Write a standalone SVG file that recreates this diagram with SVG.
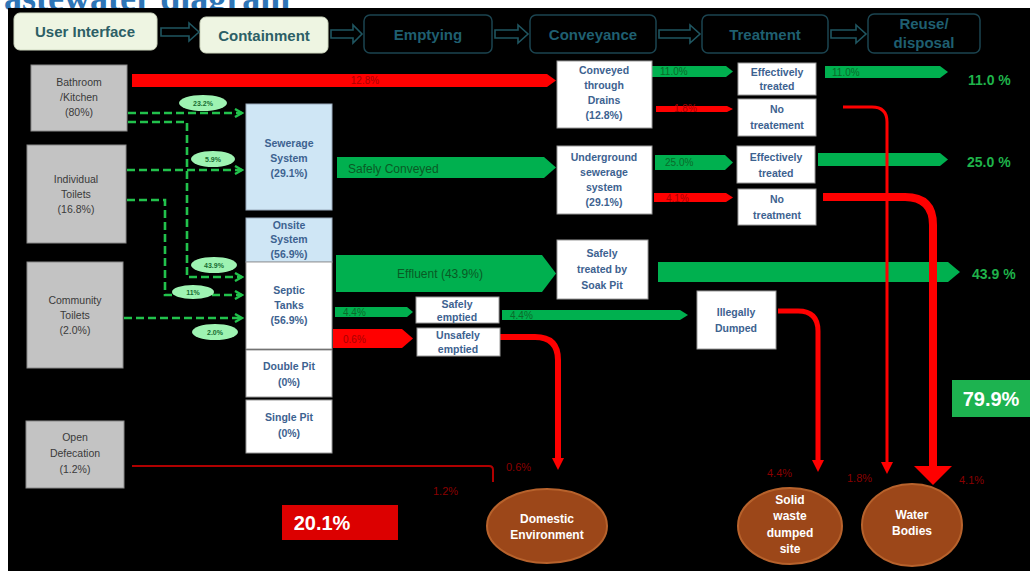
<svg xmlns="http://www.w3.org/2000/svg" width="1030" height="571" viewBox="0 0 1030 571">
<defs>
<style>
text{font-family:"Liberation Sans",Arial,sans-serif}
.title{font-family:"Liberation Serif",serif;font-weight:bold;font-size:36px;fill:#2e75b6}
.hdrA rect{fill:#eef5e2;stroke:#cfd8c0;stroke-width:1}
.hdrB rect{fill:#000;stroke:#1b4450;stroke-width:1.5}
.hdrA text{fill:#2c5f66;font-weight:bold;font-size:15px;text-anchor:middle}
.hdrB text{fill:#1f5f70;font-weight:bold;font-size:15px;text-anchor:middle}
.harrow{fill:none;stroke:#1f5560;stroke-width:1.6}
.gray rect{fill:#c3c3c3;stroke:#8a8a8a;stroke-width:1}
.gray text{fill:#3a3a3a;font-size:10.5px;text-anchor:middle}
.blue rect{fill:#cfe6f5;stroke:#9ab;stroke-width:1}
.wbox rect{fill:#fff;stroke:#999;stroke-width:1}
.blue text,.wbox text{fill:#3d6290;font-size:10.5px;font-weight:bold;text-anchor:middle}
.gbar{fill:#00b04f}
.rbar{fill:#ff0000}
.glab{fill:#0b6a2a;font-size:10px}
.rlab{fill:#a80000;font-size:10px}
.dash{fill:none;stroke:#22c24c;stroke-width:2.6;stroke-dasharray:8 4}
.oval ellipse{fill:#9ef3b2}
.oval text{fill:#176b30;font-size:7px;text-anchor:middle;font-weight:bold}
.rline{fill:none;stroke:#ff0000}
.sink ellipse{fill:#9c4719;stroke:#b7622c;stroke-width:2}
.sink text{fill:#fff;font-weight:bold;font-size:12px;text-anchor:middle}
.big{fill:#fff;font-weight:bold;font-size:20px;text-anchor:middle}
.gpct{fill:#1fb34a;font-weight:bold;font-size:14px}
.dlab{fill:#8a0000;font-size:11px}
</style>
<marker id="gchev" markerWidth="10" markerHeight="10" refX="8" refY="5" orient="auto" markerUnits="userSpaceOnUse">
<path d="M1,1 L8,5 L1,9" fill="none" stroke="#22c24c" stroke-width="2.4"/>
</marker>
<marker id="rtip" markerWidth="14" markerHeight="12" refX="2" refY="6" orient="auto" markerUnits="userSpaceOnUse">
<path d="M0,0 L12,6 L0,12 Z" fill="#ff0000"/>
</marker>
</defs>

<rect x="0" y="0" width="1030" height="571" fill="#fff"/>
<text class="title" x="-30" y="10">Wastewater diagram</text>
<rect x="8" y="8" width="1022" height="563" fill="#000"/>

<g id="header">
<g id="h-user" class="hdrA"><rect x="14" y="13" width="143" height="37" rx="6"/><text x="85" y="37">User Interface</text></g>
<g id="h-contain" class="hdrA"><rect x="200" y="17" width="128" height="36" rx="6"/><text x="264" y="41">Containment</text></g>
<g id="h-empty" class="hdrB"><rect x="364" y="15" width="128" height="38" rx="6"/><text x="428" y="40">Emptying</text></g>
<g id="h-convey" class="hdrB"><rect x="530" y="15" width="126" height="38" rx="6"/><text x="593" y="40">Conveyance</text></g>
<g id="h-treat" class="hdrB"><rect x="702" y="15" width="126" height="38" rx="6"/><text x="765" y="40">Treatment</text></g>
<g id="h-reuse" class="hdrB"><rect x="868" y="14" width="112" height="39" rx="6"/><text x="924" y="29">Reuse/</text><text x="924" y="48">disposal</text></g>
<path class="harrow" d="M161,28 H189 V23 L199,32 L189,41 V36 H161 Z"/>
<path class="harrow" d="M331,30 H353 V25 L362,34 L353,43 V38 H331 Z"/>
<path class="harrow" d="M495,30 H518 V25 L528,34 L518,43 V38 H495 Z"/>
<path class="harrow" d="M659,30 H690 V25 L700,34 L690,43 V38 H659 Z"/>
<path class="harrow" d="M831,30 H856 V25 L866,34 L856,43 V38 H831 Z"/>
</g>

<g id="connectors">
<!-- green dashed inflows -->
<path class="dash" d="M128,113 H242" marker-end="url(#gchev)"/>
<path class="dash" d="M128,122 H187 V277 H242" marker-end="url(#gchev)"/>
<path class="dash" d="M127,170 H242" marker-end="url(#gchev)"/>
<path class="dash" d="M127,200 H165 V295 H242" marker-end="url(#gchev)"/>
<path class="dash" d="M124,318 H242" marker-end="url(#gchev)"/>
<g class="oval"><ellipse cx="203" cy="103" rx="24" ry="8"/><text x="203" y="106">23.2%</text></g>
<g class="oval"><ellipse cx="213" cy="159" rx="22" ry="8"/><text x="213" y="162">5.9%</text></g>
<g class="oval"><ellipse cx="214" cy="265" rx="23" ry="8"/><text x="214" y="268">43.9%</text></g>
<g class="oval"><ellipse cx="193" cy="292" rx="21" ry="7"/><text x="193" y="295">11%</text></g>
<g class="oval"><ellipse cx="215" cy="332" rx="23" ry="8"/><text x="215" y="335">2.0%</text></g>

<!-- red top bar -->
<polygon class="rbar" points="132,74 547,74 556,80.5 547,87 132,87"/>
<text class="rlab" x="365" y="84" text-anchor="middle">12.8%</text>

<!-- drains outputs -->
<polygon class="gbar" points="652,66 726,66 733,71.5 726,77 652,77"/>
<text class="glab" x="660" y="75">11.0%</text>
<polygon class="rbar" points="656,106 727,106 733,109 727,112 656,112"/>
<text class="rlab" x="674" y="112">1.8%</text>
<polygon class="gbar" points="825,66 940,66 948,72 940,78 825,78"/>
<text class="glab" x="832" y="76">11.0%</text>

<!-- sewerage -->
<polygon class="gbar" points="337,157 544,157 556,167.5 544,178 337,178"/>
<text x="348" y="173" fill="#0a5a25" font-size="12">Safely Conveyed</text>
<polygon class="gbar" points="655,155 725,155 733,162.5 725,170 655,170"/>
<text class="glab" x="665" y="166">25.0%</text>
<polygon class="rbar" points="654,193 726,193 733,197.5 726,202 654,202"/>
<text class="rlab" x="666" y="202">4.1%</text>
<polygon class="gbar" points="818,153 940,153 948,159.5 940,166 818,166"/>

<!-- effluent -->
<polygon class="gbar" points="336,255 542,255 556,273.5 542,292 336,292"/>
<text x="440" y="278" fill="#0a5a25" font-size="12" text-anchor="middle">Effluent (43.9%)</text>
<polygon class="gbar" points="658,262 948,262 960,272 948,282 658,282"/>

<!-- emptying -->
<polygon class="gbar" points="335,307 407,307 413,312 407,317 335,317"/>
<text class="glab" x="343" y="316">4.4%</text>
<polygon class="gbar" points="502,310 680,310 688,315 680,320 502,320"/>
<text class="glab" x="510" y="319">4.4%</text>
<polygon class="rbar" points="333,329 402,329 413,338.5 402,348 333,348"/>
<text class="rlab" x="343" y="343" font-size="11">0.6%</text>

<!-- red discharges -->
<path class="rline" stroke-width="6" d="M500,337 H535 Q558,337 558,360 V460" marker-end="url(#rtip)"/>
<path class="rline" stroke-width="5" d="M778,311 H798 Q818,311 818,331 V462" marker-end="url(#rtip)"/>
<path class="rline" stroke-width="3" d="M843,107 H872 Q887,107 887,122 V464" marker-end="url(#rtip)"/>
<path class="rline" stroke-width="8" d="M823,197 H905 Q933,197 933,225 V468"/>
<polygon points="914,466 952,466 933,485" fill="#ff0000"/>
<path fill="none" stroke="#b00000" stroke-width="2" d="M132,466 H489 Q493,466 493,470 V482"/>

<text class="dlab" x="506" y="471">0.6%</text>
<text class="dlab" x="433" y="495">1.2%</text>
<text class="dlab" x="767" y="477">4.4%</text>
<text class="dlab" x="847" y="482">1.8%</text>
<text class="dlab" x="959" y="484">4.1%</text>
</g>

<g id="source-bath" class="gray"><rect x="31" y="65" width="96" height="66"/><text x="79" y="86">Bathroom</text><text x="79" y="101">/Kitchen</text><text x="79" y="116">(80%)</text></g>
<g id="source-indiv" class="gray"><rect x="27" y="145" width="99" height="98"/><text x="76" y="183">Individual</text><text x="76" y="198">Toilets</text><text x="76" y="213">(16.8%)</text></g>
<g id="source-comm" class="gray"><rect x="27" y="262" width="96" height="106"/><text x="75" y="304">Community</text><text x="75" y="319">Toilets</text><text x="75" y="334">(2.0%)</text></g>
<g id="source-od" class="gray"><rect x="26" y="421" width="98" height="67"/><text x="75" y="441">Open</text><text x="75" y="457">Defecation</text><text x="75" y="473">(1.2%)</text></g>

<g id="c-sewer" class="blue"><rect x="246" y="104" width="86" height="106"/><text x="289" y="147">Sewerage</text><text x="289" y="162">System</text><text x="289" y="177">(29.1%)</text></g>
<g id="c-onsite" class="blue"><rect x="246" y="218" width="86" height="44"/><text x="289" y="229">Onsite</text><text x="289" y="243">System</text><text x="289" y="258">(56.9%)</text></g>
<g id="c-septic" class="wbox"><rect x="246" y="262" width="86" height="87"/><text x="289" y="294">Septic</text><text x="289" y="309">Tanks</text><text x="289" y="324">(56.9%)</text></g>
<g id="c-double" class="wbox"><rect x="246" y="350" width="86" height="47"/><text x="289" y="370">Double Pit</text><text x="289" y="386">(0%)</text></g>
<g id="c-single" class="wbox"><rect x="246" y="400" width="86" height="53"/><text x="289" y="421">Single Pit</text><text x="289" y="437">(0%)</text></g>

<g id="e-safe" class="wbox"><rect x="416" y="297" width="83" height="26"/><text x="457" y="308">Safely</text><text x="457" y="321">emptied</text></g>
<g id="e-unsafe" class="wbox"><rect x="417" y="328" width="83" height="28"/><text x="458" y="339">Unsafely</text><text x="458" y="353">emptied</text></g>

<g id="v-drains" class="wbox"><rect x="557" y="61" width="95" height="67"/><text x="604" y="74">Conveyed</text><text x="604" y="89">through</text><text x="604" y="104">Drains</text><text x="604" y="119">(12.8%)</text></g>
<g id="v-underground" class="wbox"><rect x="557" y="146" width="95" height="68"/><text x="604" y="161">Underground</text><text x="604" y="176">sewerage</text><text x="604" y="191">system</text><text x="604" y="206">(29.1%)</text></g>
<g id="v-soak" class="wbox"><rect x="557" y="240" width="91" height="59"/><text x="602" y="257">Safely</text><text x="602" y="273">treated by</text><text x="602" y="289">Soak Pit</text></g>
<g id="v-illegal" class="wbox"><rect x="697" y="291" width="79" height="58"/><text x="736" y="316">Illegally</text><text x="736" y="332">Dumped</text></g>

<g id="t-eff1" class="wbox"><rect x="738" y="63" width="78" height="32"/><text x="777" y="76">Effectively</text><text x="777" y="90">treated</text></g>
<g id="t-no1" class="wbox"><rect x="738" y="99" width="78" height="37"/><text x="777" y="113">No</text><text x="777" y="129">treatement</text></g>
<g id="t-eff2" class="wbox"><rect x="737" y="146" width="78" height="37"/><text x="776" y="161">Effectively</text><text x="776" y="177">treated</text></g>
<g id="t-no2" class="wbox"><rect x="738" y="189" width="78" height="36"/><text x="777" y="203">No</text><text x="777" y="219">treatment</text></g>

<g id="r-110"><text class="gpct" x="968" y="85">11.0 %</text></g>
<g id="r-250"><text class="gpct" x="967" y="167">25.0 %</text></g>
<g id="r-439"><text class="gpct" x="972" y="279">43.9 %</text></g>
<g id="r-799"><rect x="952" y="380" width="78" height="37" fill="#1db350"/><text class="big" x="991" y="406">79.9%</text></g>
<g id="r-201"><rect x="282" y="505" width="116" height="35" fill="#dc0000"/><text class="big" x="322" y="530">20.1%</text></g>

<g id="s-domestic" class="sink"><ellipse cx="547" cy="526" rx="60" ry="37"/><text x="547" y="523">Domestic</text><text x="547" y="539">Environment</text></g>
<g id="s-solid" class="sink"><ellipse cx="790" cy="526" rx="52" ry="38"/><text x="790" y="504">Solid</text><text x="790" y="520">waste</text><text x="790" y="537">dumped</text><text x="790" y="553">site</text></g>
<g id="s-water" class="sink"><ellipse cx="912" cy="525" rx="50" ry="41"/><text x="912" y="519">Water</text><text x="912" y="535">Bodies</text></g>
</svg>
